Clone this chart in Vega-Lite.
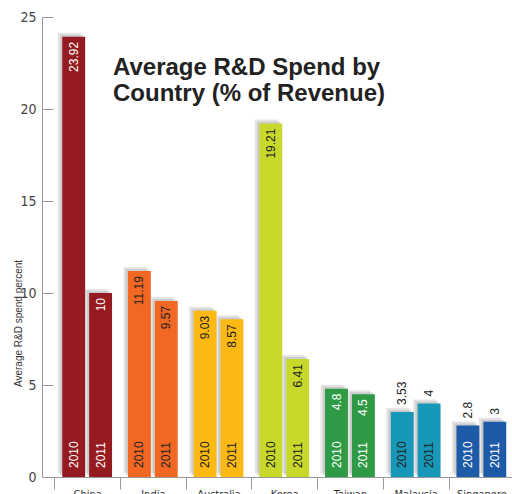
{
  "$schema": "https://vega.github.io/schema/vega-lite/v6.json",
  "width": 470,
  "height": 460,
  "autosize": {"type": "none"},
  "padding": {"left": 42, "top": 17, "right": 0, "bottom": 17},
  "background": "white",
  "config": {"view": {"stroke": null}, "font": "Liberation Sans"},
  "title": {
    "text": ["Average R&D Spend by", "Country (% of Revenue)"],
    "anchor": "start",
    "frame": "group",
    "orient": "top",
    "baseline": "top",
    "fontSize": 24,
    "fontWeight": "bold",
    "font": "Liberation Sans",
    "color": "#222222",
    "lineHeight": 26,
    "dx": 71,
    "dy": 96,
    "offset": 0
  },
  "data": {
    "values": [
      {"country": "China", "year": "2010", "value": 23.92},
      {"country": "China", "year": "2011", "value": 10},
      {"country": "India", "year": "2010", "value": 11.19},
      {"country": "India", "year": "2011", "value": 9.57},
      {"country": "Australia", "year": "2010", "value": 9.03},
      {"country": "Australia", "year": "2011", "value": 8.57},
      {"country": "Korea", "year": "2010", "value": 19.21},
      {"country": "Korea", "year": "2011", "value": 6.41},
      {"country": "Taiwan", "year": "2010", "value": 4.8},
      {"country": "Taiwan", "year": "2011", "value": 4.5},
      {"country": "Malaysia", "year": "2010", "value": 3.53},
      {"country": "Malaysia", "year": "2011", "value": 4},
      {"country": "Singapore", "year": "2010", "value": 2.8},
      {"country": "Singapore", "year": "2011", "value": 3}
    ]
  },
  "resolve": {"scale": {"xOffset": "independent"}},
  "encoding": {
    "x": {
      "field": "country",
      "type": "nominal",
      "sort": ["China", "India", "Australia", "Korea", "Taiwan", "Malaysia", "Singapore"],
      "scale": {"range": [0, 476], "paddingInner": 0, "paddingOuter": 0.1225, "align": 0.764},
      "axis": {
        "title": null,
        "labelAngle": 0,
        "tickBand": "extent",
        "tickSize": 12,
        "tickColor": "#999999",
        "domainColor": "#999999",
        "labelPadding": -1,
        "labelFontSize": 11,
        "labelColor": "#333333",
        "labelFont": "Liberation Sans Narrow, DejaVu Sans Condensed, Liberation Sans",
        "labelBaseline": "top"
      }
    },
    "xOffset": {
      "field": "year",
      "type": "nominal",
      "scale": {"type": "band", "paddingInner": 0.148, "paddingOuter": 0.296}
    },
    "y": {
      "field": "value",
      "type": "quantitative",
      "scale": {"domain": [0, 25], "nice": false},
      "axis": {
        "title": "Average R&D spend percent",
        "titleFontSize": 10,
        "titleFontWeight": "normal",
        "titleColor": "#333333",
        "titleFont": "Liberation Sans",
        "titleX": -24,
        "titleY": 306,
        "titleAngle": -90,
        "titleAlign": "center",
        "titleBaseline": "middle",
        "values": [0, 5, 10, 15, 20, 25],
        "grid": false,
        "tickSize": -11,
        "tickColor": "#999999",
        "domainColor": "#999999",
        "labelPadding": 17,
        "labelFontSize": 14,
        "labelColor": "#444444",
        "labelFont": "Liberation Sans Narrow, DejaVu Sans Condensed, Liberation Sans"
      }
    }
  },
  "layer": [
    {
      "mark": {"type": "bar", "color": "#a8a8a8", "opacity": 0.3, "yOffset": -4},
      "encoding": {
        "xOffset": {
          "field": "year",
          "type": "nominal",
          "scale": {"type": "band", "paddingInner": 0.148, "paddingOuter": 0.296, "align": 0.22}
        }
      }
    },
    {
      "mark": {"type": "bar", "color": "#a8a8a8", "opacity": 0.4, "yOffset": -2},
      "encoding": {
        "xOffset": {
          "field": "year",
          "type": "nominal",
          "scale": {"type": "band", "paddingInner": 0.148, "paddingOuter": 0.296, "align": 0.36}
        }
      }
    },
    {
      "mark": {"type": "bar"},
      "encoding": {
        "color": {
          "field": "country",
          "type": "nominal",
          "scale": {
            "domain": ["China", "India", "Australia", "Korea", "Taiwan", "Malaysia", "Singapore"],
            "range": ["#951b21", "#f26822", "#fdb913", "#c8d92b", "#2e9a45", "#1898b8", "#1d5aa8"]
          },
          "legend": null
        }
      }
    },
    {
      "transform": [{"filter": "datum.country !== 'Malaysia' && datum.country !== 'Singapore'"}],
      "mark": {"type": "text", "angle": 270, "align": "right", "baseline": "middle", "dx": -5, "fontSize": 12},
      "encoding": {
        "text": {"field": "value", "type": "quantitative"},
        "color": {
          "condition": {"test": "datum.country === 'China' || datum.country === 'Taiwan'", "value": "#ffffff"},
          "value": "#222222"
        }
      }
    },
    {
      "transform": [{"filter": "datum.country === 'Malaysia' || datum.country === 'Singapore'"}],
      "mark": {"type": "text", "angle": 270, "align": "left", "baseline": "middle", "dx": 7, "fontSize": 12, "color": "#222222"},
      "encoding": {
        "text": {"field": "value", "type": "quantitative"}
      }
    },
    {
      "mark": {"type": "text", "angle": 270, "align": "left", "baseline": "middle", "dx": 9, "fontSize": 12},
      "encoding": {
        "y": {"datum": 0},
        "text": {"field": "year"},
        "color": {
          "condition": {"test": "datum.country === 'China' || datum.country === 'Taiwan' || datum.country === 'Singapore'", "value": "#ffffff"},
          "value": "#222222"
        }
      }
    }
  ]
}
